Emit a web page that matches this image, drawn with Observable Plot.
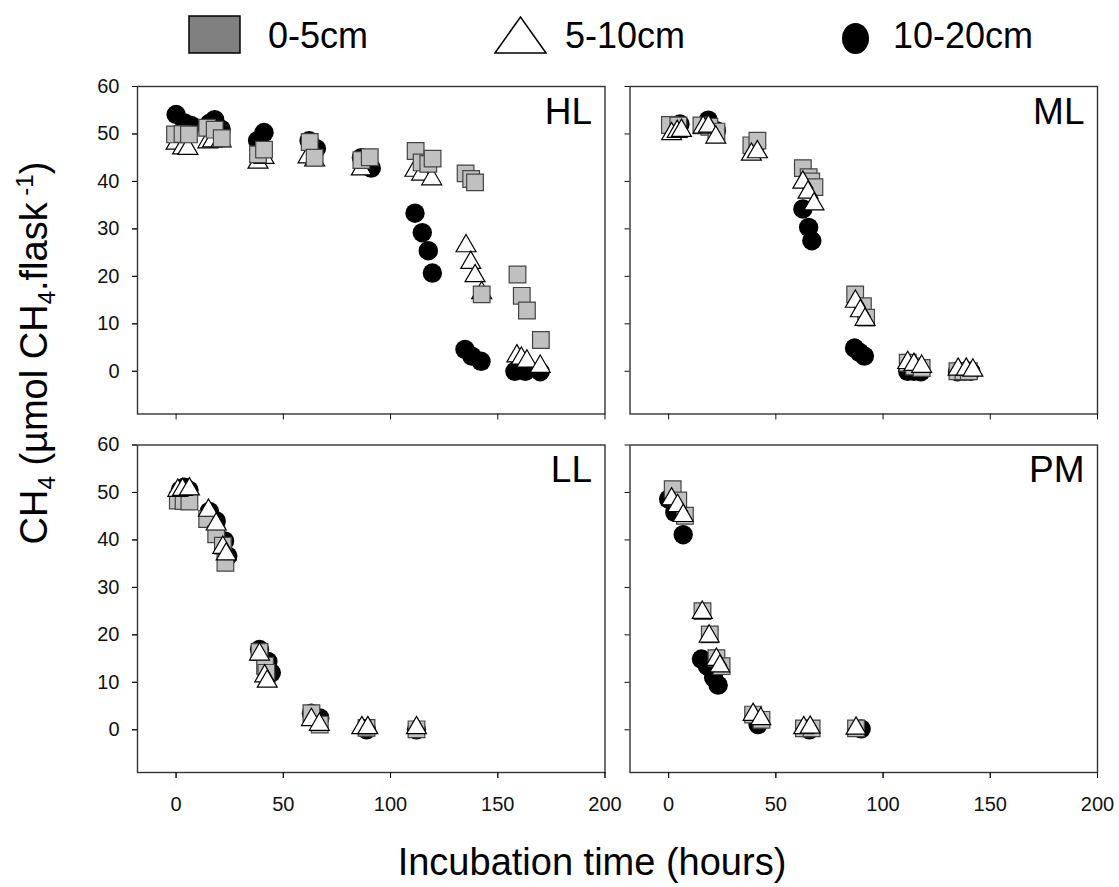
<!DOCTYPE html>
<html>
<head>
<meta charset="utf-8">
<script src="https://cdn.jsdelivr.net/npm/d3@7"></script>
<script src="https://cdn.jsdelivr.net/npm/@observablehq/plot@0.6"></script>
<style>
  html, body { margin: 0; padding: 0; background: #fff; }
  #wrap { position: relative; width: 1119px; height: 887px; overflow: hidden; font-family: "Liberation Sans", Arial, sans-serif; color: #000; }
  .abs { position: absolute; }
  .leg { position: absolute; font-size: 36px; line-height: 36px; white-space: nowrap; }
  #ytitle { position: absolute; width: 520px; left: -226px; top: 333px; height: 40px; line-height: 40px; font-size: 38px; text-align: center; transform: rotate(-90deg); transform-origin: 50% 50%; white-space: nowrap; }
  #ytitle sub, #ytitle sup { font-size: 24px; }
  #ytitle sub { vertical-align: -8px; }
  #ytitle sup { vertical-align: 14px; line-height: 0; }
  #xtitle { position: absolute; width: 600px; left: 292px; top: 843px; font-size: 38px; line-height: 38px; text-align: center; white-space: nowrap; }
</style>
</head>
<body>
<div id="wrap"></div>
<script>
// ---- Data ----
const panels = ["HL", "ML", "LL", "PM"];
const depths = ["0-5cm", "5-10cm", "10-20cm"];
const yTicks = [0, 10, 20, 30, 40, 50, 60];
const xTicks = [0, 50, 100, 150, 200];

// [hours, CH4]
const hlSquare = [[-0.5,49.9],[3,50],[6,49.9],[14.5,51.3],[18,50.9],[21.3,49.1],[38.2,45.7],[41,46.7],[62.3,48.3],[64.6,45],[86.4,44.5],[90.3,45.1],[111.7,46.4],[114.5,44.0],[117.6,43.7],[119.6,44.8],[135,41.7],[137.6,40.5],[139.4,39.8],[142.5,16.2],[159.2,20.4],[161.2,15.9],[163.6,12.8],[170.1,6.6]];
const hlTriangle = [[0,48],[3,47],[5.5,46.9],[14.8,48.3],[17,48.5],[21,48.5],[38.2,44],[41,45],[61.5,45.1],[64.6,44.5],[86.4,42.6],[111.4,42.3],[114.5,41.5],[119.2,40.5],[135.2,26.4],[137.4,22.9],[139.4,20.1],[142.5,16.5],[158.9,3.2],[161,2.7],[163.6,2.1],[169.8,1]];
const hlCircle = [[0,54.1],[4,52.3],[7,51.8],[15.5,52.2],[18,53],[21,51],[38,48.6],[41,50.3],[62,48.6],[65.4,46.9],[86.4,45],[91,42.8],[111.4,33.3],[114.8,29.2],[117.6,25.4],[119.5,20.7],[134.7,4.6],[137.9,3.2],[142.2,2.1],[158,0],[162.8,0],[169.8,-0.1]];

const mlSquare = [[0.6,51.9],[4.5,51.8],[15.3,51.8],[19,51.5],[22.3,50.5],[38.6,47.6],[41.4,48.6],[62.6,42.8],[65.3,40.9],[66.5,40],[68,38.8],[87,16.2],[90.6,13.7],[92.1,11.3],[111.5,1.8],[114.5,1],[118,0.7],[134.7,0],[137.5,0],[140,0]];
const mlTriangle = [[1.4,50],[4,50.5],[6,50.7],[16.1,51.4],[18.6,51.6],[22,49.3],[38.6,45.7],[41.4,46.2],[62.6,39.8],[65,37.7],[67.8,35.2],[87.1,14.7],[89.4,12.7],[91.6,10.9],[111.5,1.8],[114.4,1.4],[118,1],[135,0.4],[138.8,0.4],[141.9,0.2]];
const mlCircle = [[1.4,51.8],[5.3,52.1],[18.5,52.9],[22.3,50.7],[40.1,47.2],[62.6,34.2],[65.3,30.3],[66.8,27.5],[86.7,4.9],[89,4],[91.3,3.2],[111.5,0],[114.5,0],[117.7,-0.1],[134.7,-0.1],[138,0],[140.9,0]];

const llSquare = [[0.8,48.3],[3.5,48.2],[6.2,48.1],[14.5,44.4],[18.7,41.2],[21.8,38.8],[23,35.2],[38.9,16.4],[41.5,13.5],[42.1,12],[63.1,3.5],[67,1.1],[88.8,0.4],[112.1,0.1]];
const llTriangle = [[0.8,50.4],[3,50.6],[6.2,50.7],[15.1,46.2],[18.7,43.3],[21.8,38.4],[23.4,37],[38.9,15.9],[41.3,11.3],[42.5,10.2],[63.1,2.1],[66.8,1.1],[86.6,0.4],[89.4,0.4],[112.1,0.4]];
const llCircle = [[2,50.5],[3.9,51.1],[6,50.5],[15.5,46],[18.7,44],[22.6,39.8],[24.1,36.6],[38.9,16.9],[42.8,14.4],[44.4,12],[63.1,3.5],[67,2.5],[88.8,0],[112.1,0]];

const pmSquare = [[1.9,50.7],[4.5,48.3],[7.6,45.1],[15.8,25],[19.2,20.1],[22.3,15.1],[24.7,13.4],[39.4,3.2],[43.3,2.1],[63.1,0.3],[66.7,0.3],[87.4,0.3]];
const pmTriangle = [[1.4,48.6],[4.2,47.2],[6.8,45.1],[15.7,24.7],[18.9,19.7],[22.3,14.8],[23.9,13.4],[39.4,3.2],[43,2.3],[63,0.4],[66,0.5],[87.4,0.3]];
const pmCircle = [[0,48.6],[2.9,45.8],[6.8,41.1],[15.3,14.9],[18.1,13.4],[21,11],[23.1,9.4],[41.7,1.1],[65.7,0],[89.8,0.2]];

// ---- Build table ----
const series = {
  HL: [hlSquare, hlTriangle, hlCircle],
  ML: [mlSquare, mlTriangle, mlCircle],
  LL: [llSquare, llTriangle, llCircle],
  PM: [pmSquare, pmTriangle, pmCircle]
};
const rows = [];
panels.forEach((p, i) => {
  series[p].forEach((arr, j) => {
    arr.forEach(([t, v]) => rows.push({panel: p, col: i % 2, row: Math.floor(i / 2), depth: depths[j], t, v}));
  });
});
const labels = panels.map((p, i) => ({name: p, col: i % 2, row: Math.floor(i / 2)}));

const sq = rows.filter(d => d.depth === depths[0]);
const tri = rows.filter(d => d.depth === depths[1]);
const cir = rows.filter(d => d.depth === depths[2]);

const font = "'Liberation Sans', Arial, sans-serif";

const chart = Plot.plot({
  width: 1119,
  height: 817,
  marginTop: 16,
  marginBottom: 115,
  marginLeft: 137,
  marginRight: 22,
  style: {fontFamily: font, fontSize: "20px", background: "white", color: "#111"},
  x: {domain: [-18, 200]},
  y: {domain: [-9, 60]},
  fx: {domain: [0, 1], axis: null, paddingInner: 0.0508, paddingOuter: 0, round: false},
  fy: {domain: [0, 1], axis: null, paddingInner: 0.0865, paddingOuter: 0, round: false},
  marks: [
    Plot.frame({stroke: "#333", strokeWidth: 1.4}),
    Plot.axisY({ticks: yTicks, facetAnchor: "left", tickSize: 5, tickPadding: 13, fontSize: 20, label: null, color: "#111"}),
    Plot.axisY({ticks: yTicks, facetAnchor: null, tickSize: 5, tickFormat: () => "", label: null, color: "#111"}),
    Plot.axisX({ticks: xTicks, facetAnchor: "bottom", tickSize: 6, tickPadding: 18, fontSize: 20, label: null, color: "#111"}),
    Plot.axisX({ticks: xTicks, facetAnchor: null, tickSize: 6, tickFormat: () => "", label: null, color: "#111"}),
    Plot.dot(cir, {x: "t", y: "v", fx: "col", fy: "row", r: 9.7, symbol: "circle", fill: "black", stroke: "none"}),
    Plot.dot(tri.filter(d => d.panel === "HL"), {x: "t", y: "v", fx: "col", fy: "row", r: 7.4, symbol: "triangle", fill: "white", stroke: "black", strokeWidth: 1.2}),
    Plot.dot(sq, {x: "t", y: "v", fx: "col", fy: "row", r: 9.4, symbol: "square", fill: "#c0c0c0", stroke: "#444", strokeWidth: 1.2}),
    Plot.dot(tri.filter(d => d.panel !== "HL"), {x: "t", y: "v", fx: "col", fy: "row", r: 7.4, symbol: "triangle", fill: "white", stroke: "black", strokeWidth: 1.2}),
    Plot.text(labels, {fx: "col", fy: "row", text: "name", frameAnchor: "top-right", textAnchor: "end", lineAnchor: "top", dx: -13, dy: 11, fontSize: 37, fill: "black"})
  ]
});

const wrap = document.getElementById("wrap");

// Legend (HTML, above the SVG)
const legendItems = [
  {label: depths[0], sym: `<svg width="53" height="39"><rect x="1" y="1" width="51" height="37" fill="#808080" stroke="#000" stroke-width="1.5"/></svg>`, symLeft: 188, symTop: 15, textLeft: 268},
  {label: depths[1], sym: `<svg width="53" height="39"><polygon points="26.5,1 1,37 52,37" fill="#fff" stroke="#000" stroke-width="1.5"/></svg>`, symLeft: 494, symTop: 16, textLeft: 565},
  {label: depths[2], sym: `<svg width="29" height="33"><ellipse cx="14.5" cy="16.5" rx="13.5" ry="15.5" fill="#000"/></svg>`, symLeft: 841, symTop: 22, textLeft: 893}
];
legendItems.forEach(it => {
  const s = document.createElement("div");
  s.className = "abs";
  s.style.left = it.symLeft + "px";
  s.style.top = it.symTop + "px";
  s.innerHTML = it.sym;
  wrap.appendChild(s);
  const t = document.createElement("div");
  t.className = "leg";
  t.style.left = it.textLeft + "px";
  t.style.top = "18px";
  t.textContent = it.label;
  wrap.appendChild(t);
});

chart.style.position = "absolute";
chart.style.left = "0px";
chart.style.top = "70px";
wrap.appendChild(chart);

const yt = document.createElement("div");
yt.id = "ytitle";
yt.innerHTML = "CH<sub>4</sub> (µmol CH<sub>4</sub>.flask<sup> -1</sup>)";
wrap.appendChild(yt);

const xt = document.createElement("div");
xt.id = "xtitle";
xt.textContent = "Incubation time (hours)";
wrap.appendChild(xt);
</script>
</body>
</html>
